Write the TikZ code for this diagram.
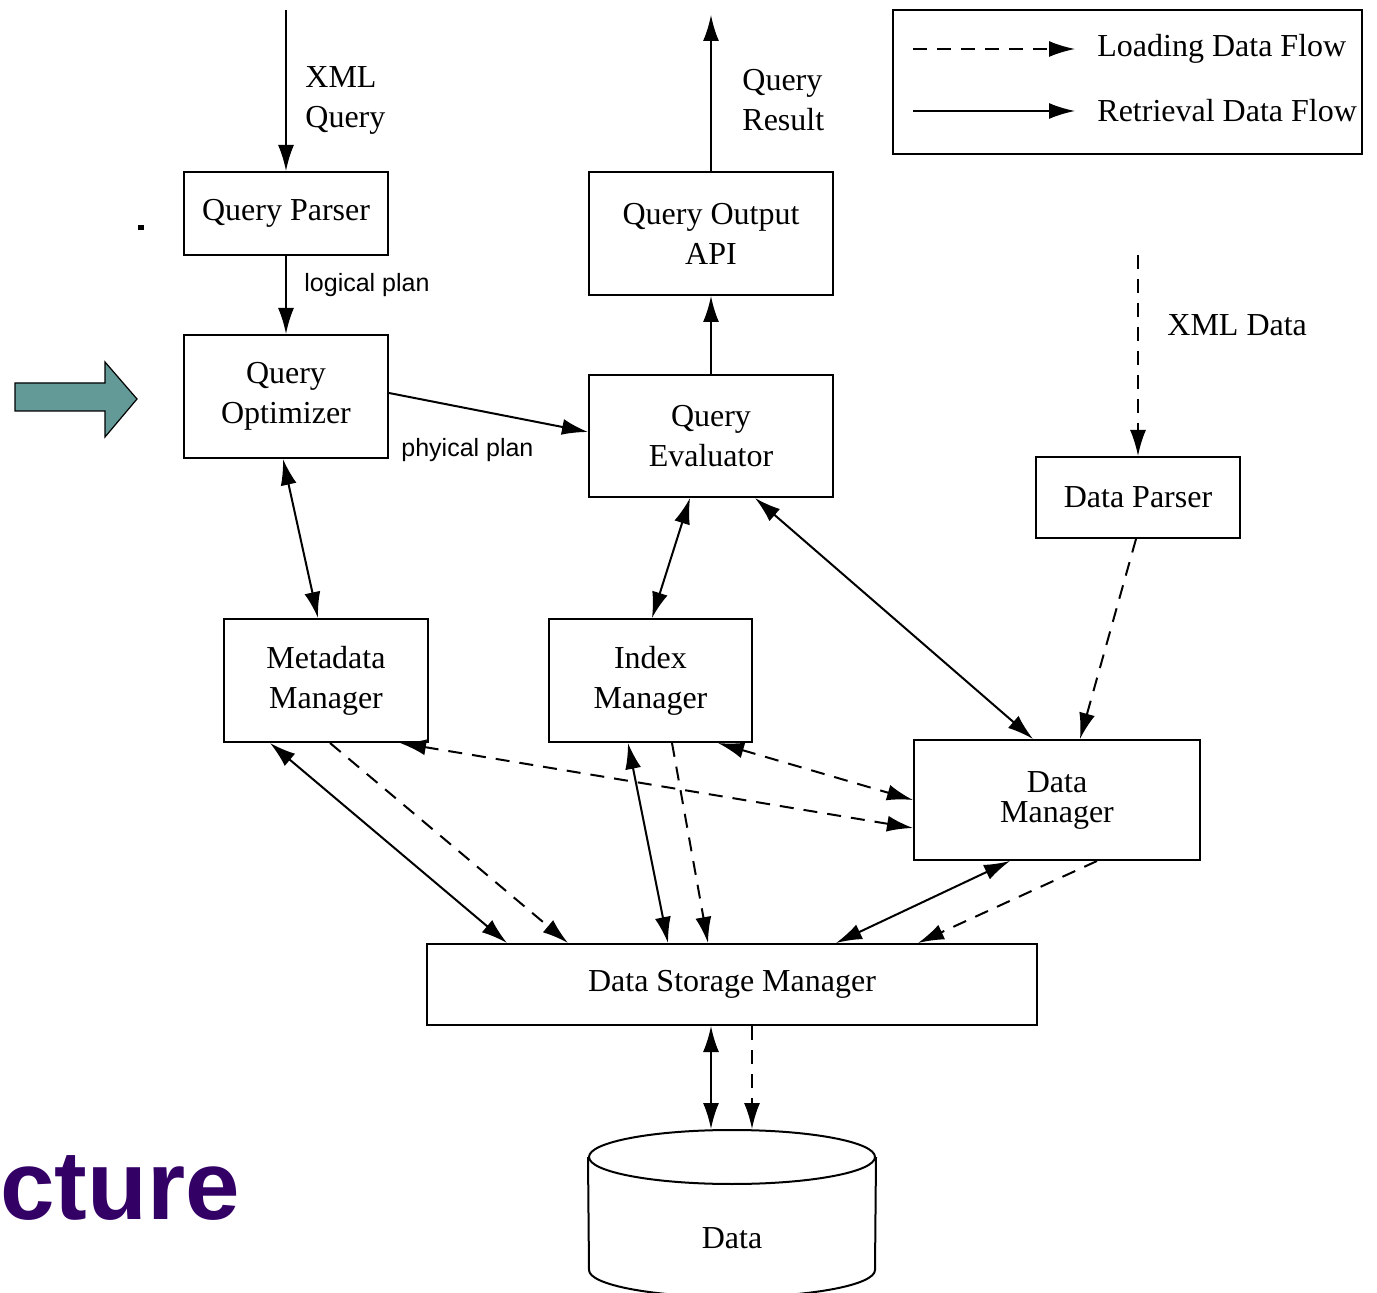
\documentclass[tikz,border=0pt]{standalone}
\usepackage{fontspec}
\setmainfont{Liberation Serif}
\newfontfamily\planfont{Liberation Sans}
\usetikzlibrary{arrows,arrows.meta,shapes,shapes.geometric,calc}
\definecolor{arrowteal}{RGB}{99,153,150}
\definecolor{titlepurple}{RGB}{51,0,102}

\begin{document}
\begin{tikzpicture}[x=0.5pt,y=-0.5pt,>={Latex[length=13pt,width=8pt]},
    box/.style={draw,line width=1pt,inner sep=0pt,align=center,font=\fontsize{16}{20}\selectfont},
    txt/.style={inner sep=0pt,anchor=west,align=left,font=\fontsize{16}{20}\selectfont},
    plan/.style={inner sep=0pt,anchor=west,font=\planfont\fontsize{12.5}{15}\selectfont},
    flow/.style={line width=1pt},
    load/.style={line width=1pt,dash pattern=on 7pt off 5pt}]
    \useasboundingbox (0,0) rectangle (1377,1293);
    \node[box,minimum width=102pt,minimum height=41.5pt] (qparser) at (286,213.5) {Query Parser};
    \node[box,minimum width=102pt,minimum height=61.5pt] (qopt) at (286,396.5) {Query\\Optimizer};
    \node[box,minimum width=122pt,minimum height=61.5pt] (qout) at (711,233.5) {Query Output\\API};
    \node[box,minimum width=122pt,minimum height=61pt] (qeval) at (711,436) {Query\\Evaluator};
    \node[box,minimum width=102pt,minimum height=40.5pt] (dparser) at (1138,497.5) {Data Parser};
    \node[box,minimum width=102pt,minimum height=61.5pt] (meta) at (326,680.5) {Metadata\\Manager};
    \node[box,minimum width=101.5pt,minimum height=61.5pt] (index) at (650.5,680.5) {Index\\Manager};
    \node[box,minimum width=143pt,minimum height=60pt] (dman) at (1057,800) {Data\\[-5pt]Manager};
    \node[box,minimum width=305pt,minimum height=40.5pt] (dsm) at (732,984.5) {Data Storage Manager};
    \node[draw,ellipse,line width=1pt,inner sep=0pt,minimum width=143pt,minimum height=27pt] (dbtop) at (732,1157) {};
    \draw[line width=1pt] (dbtop.west) -- (589,1270) arc (180:360:71.5pt and 13.5pt) -- (dbtop.east);
    \node[font=\fontsize{16}{20}\selectfont] (db) at (732,1238) {Data};
    \node[draw,line width=1pt,minimum width=234.5pt,minimum height=72pt] (legend) at (1127.5,82) {};
    \coordinate (ldA) at (913,49);
    \coordinate (ldB) at (1075,49);
    \coordinate (lrA) at (913,111);
    \coordinate (lrB) at (1075,111);
    \draw[load,->] (ldA) -- (ldB);
    \draw[flow,->] (lrA) -- (lrB);
    \node[txt] (ldtxt) at (1097,49) {Loading Data Flow};
    \node[txt] (lrtxt) at (1097,111) {Retrieval Data Flow};
    \coordinate (qin) at (286,10);
    \coordinate (qres) at (711,15);
    \coordinate (xin) at (1138,255);
    \draw[flow,->] (qin) -- (qparser);
    \node[txt] (qinlbl) at (305,100) {XML\\Query};
    \draw[flow,->] (qparser) -- (qopt);
    \node[plan] (logical) at (304,285) {logical plan};
    \draw[flow,->] (qopt.east |- 0,393) -- (qeval.west |- 0,432);
    \node[plan] (phyical) at (401,450) {phyical plan};
    \draw[flow,->] (qeval) -- (qout);
    \draw[flow,->] (qout) -- (qres);
    \node[txt] (qreslbl) at (742,100) {Query\\Result};
    \draw[load,->] (xin) -- (dparser);
    \node[txt] (xinlbl) at (1167,325) {XML Data};
    \draw[load,->] (dparser.south -| 1136,0) -- (dman.north -| 1080,0);
    \draw[flow,<->] (qopt.south -| 283,0) -- (meta.north -| 318,0);
    \draw[flow,<->] (qeval.south -| 690,0) -- (index.north -| 652,0);
    \draw[flow,<->] (qeval.south -| 755,0) -- (dman.north -| 1033,0);
    \draw[flow,<->] (meta.south -| 270,0) -- (dsm.north -| 507,0);
    \draw[load,->] (meta.south -| 330,0) -- (dsm.north -| 568,0);
    \draw[load,<->] (meta.south -| 400,0) -- (dman.west |- 0,828);
    \draw[load,<->] (index.south -| 718,0) -- (dman.west |- 0,800);
    \draw[flow,<->] (index.south -| 628,0) -- (dsm.north -| 668,0);
    \draw[load,->] (index.south -| 672,0) -- (dsm.north -| 708,0);
    \draw[flow,<->] (dman.south -| 1010,0) -- (dsm.north -| 836,0);
    \draw[load,->] (dman.south -| 1097,0) -- (dsm.north -| 918,0);
    \draw[flow,<->] (dsm.south -| 711,0) -- (dbtop.north -| 711,0);
    \draw[load,->] (dsm.south -| 752,0) -- (dbtop.north -| 752,0);
    \fill[arrowteal,draw=black,line width=0.6pt] (15,383) -- (105,383) -- (105,362) -- (137,399) -- (105,437) -- (105,411) -- (15,411) -- cycle;
    \fill (138,225) rectangle (144,230);
    \node[anchor=base west,inner sep=0pt,text=titlepurple,font=\planfont\bfseries\fontsize{49}{58}\selectfont] (title) at (0,1219) {cture};
\end{tikzpicture}
\end{document}
